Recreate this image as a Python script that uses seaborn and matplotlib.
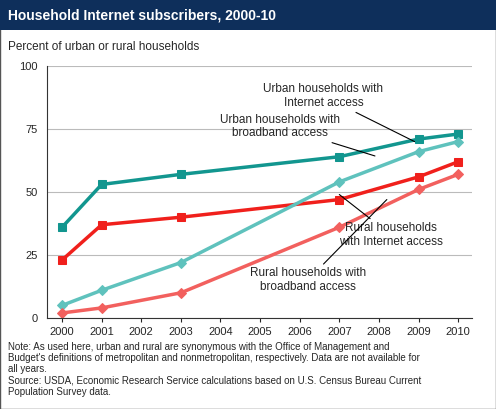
import matplotlib
matplotlib.use("Agg")
import matplotlib.pyplot as plt
import seaborn as sns
import pandas as pd

years = [2000, 2001, 2003, 2007, 2009, 2010]
urban_internet = [36, 53, 57, 64, 71, 73]
rural_internet = [23, 37, 40, 47, 56, 62]
urban_broadband = [5, 11, 22, 54, 66, 70]
rural_broadband = [2, 4, 10, 36, 51, 57]

sns.set_style("white")
plt.rcParams['font.family'] = ['Liberation Sans', 'DejaVu Sans']

fig = plt.figure(figsize=(4.96, 4.09), dpi=100)
fig.patches.append(plt.Rectangle((0, 0), 1, 1, transform=fig.transFigure, fill=False, ec="#555555", lw=1))
fig.patches.append(plt.Rectangle((0, 1-30/409), 1, 30/409, transform=fig.transFigure, fc="#0e2f5b", ec="none"))
fig.text(8/496, 1-15/409, "Household Internet subscribers, 2000-10", color="white", fontsize=10, fontweight="bold", va="center")
fig.text(8/496, 1-47/409, "Percent of urban or rural households", fontsize=8.5, va="center")

ax = fig.add_axes([47/496, 1-318/409, 425/496, 252/409])
series = [("Urban households with Internet access", urban_internet, "#12968f", "s"),
          ("Rural households with Internet access", rural_internet, "#f0201c", "s"),
          ("Urban households with broadband access", urban_broadband, "#5fc2bd", "D"),
          ("Rural households with broadband access", rural_broadband, "#f2605e", "D")]
for name, vals, c, m in series:
    df = pd.DataFrame({"year": years, "v": vals})
    sns.lineplot(data=df, x="year", y="v", ax=ax, color=c, lw=2.5, marker=m,
                 markersize=6 if m == "s" else 5.5, markeredgecolor=c)
ax.set_xlim(1999.62, 2010.35)
ax.set_ylim(0, 100)
ax.set_xticks(range(2000, 2011))
ax.set_yticks([0, 25, 50, 75, 100])
ax.tick_params(labelsize=8, length=3, bottom=True)
ax.yaxis.grid(True, color="#bbbbbb", lw=0.8)
ax.set_axisbelow(True)
ax.set_xlabel(""); ax.set_ylabel("")
for s in ["top", "right"]:
    ax.spines[s].set_visible(False)
for s in ["left", "bottom"]:
    ax.spines[s].set_color("#333333")

fs = 8.5
ap = dict(arrowstyle="-", color="black", lw=0.8, shrinkA=0, shrinkB=0)
ax.annotate("Urban households with\nInternet access", xy=(2008.9, 70), xytext=(2006.6, 88),
            ha="center", va="center", fontsize=fs, arrowprops=ap)
ax.annotate("Urban households with\nbroadband access", xy=(2007.9, 64.3), xytext=(2005.5, 76),
            ha="center", va="center", fontsize=fs, arrowprops=ap)
ax.annotate("Rural households\nwith Internet access", xy=(2007.0, 49), xytext=(2008.3, 33),
            ha="center", va="center", fontsize=fs, arrowprops=ap)
ax.annotate("Rural households with\nbroadband access", xy=(2008.2, 47), xytext=(2006.2, 15),
            ha="center", va="center", fontsize=fs, arrowprops=ap)

fig.text(8/496, 1-342/409, "Note: As used here, urban and rural are synonymous with the Office of Management and\n"
         "Budget's definitions of metropolitan and nonmetropolitan, respectively. Data are not available for\n"
         "all years.\nSource: USDA, Economic Research Service calculations based on U.S. Census Bureau Current\n"
         "Population Survey data.", fontsize=7, va="top", linespacing=1.15)
fig.savefig("out.png", dpi=100)
